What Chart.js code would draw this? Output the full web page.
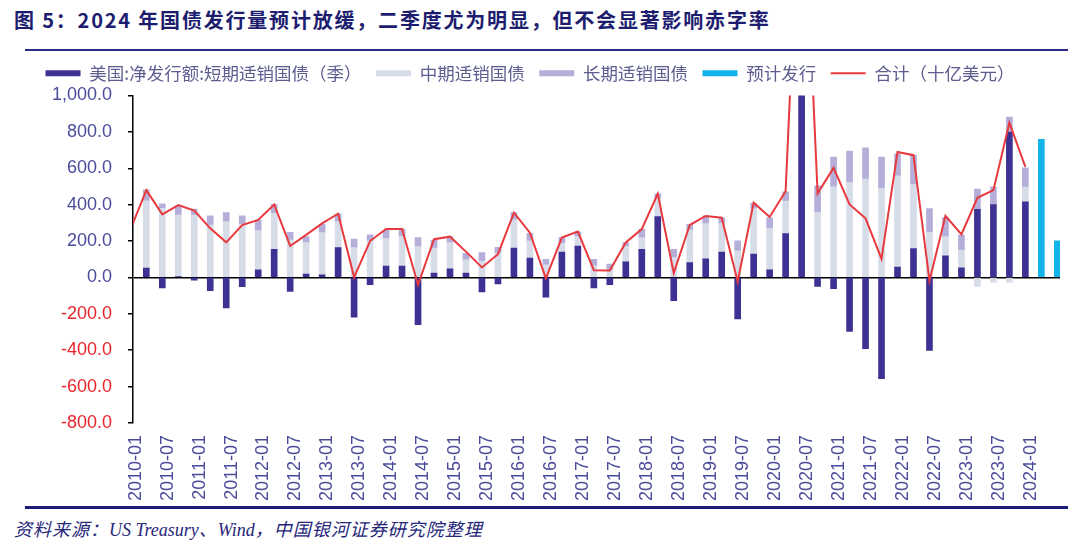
<!DOCTYPE html>
<html>
<head>
<meta charset="utf-8">
<title>2024年国债发行量预计放缓</title>
<script src="https://cdn.jsdelivr.net/npm/chart.js"></script>
<style>
  body { margin: 0; width: 1080px; height: 548px; background: #fff; position: relative; overflow: hidden; font-family: "Noto Sans CJK SC", sans-serif; }
  .title { position: absolute; left: 14px; top: 5px; font-size: 20px; font-weight: bold; color: #1d1d6f; letter-spacing: 1.8px; white-space: nowrap; }
  .rule-top { position: absolute; left: 25px; top: 49px; width: 1043px; height: 2px; background: #2c2c88; }
  .rule-bottom { position: absolute; left: 25px; top: 506px; width: 1043px; height: 3px; background: #1c1c7c; }
  .source { position: absolute; left: 14px; top: 515px; font-size: 18px; font-style: italic; color: #26267a; letter-spacing: 1px; white-space: nowrap; }
  .source .en { font-family: "Liberation Serif", serif; letter-spacing: 0; }
  #wrap { position: absolute; left: 0; top: 50px; width: 1080px; height: 456px; }
</style>
</head>
<body>
  <div class="title">图 5：2024 年国债发行量预计放缓，二季度尤为明显，但不会显著影响赤字率</div>
  <div class="rule-top"></div>
  <div id="wrap"><canvas id="issuance"></canvas></div>
  <div class="rule-bottom"></div>
  <div class="source">资料来源：<span class="en">US Treasury</span>、<span class="en">Wind</span>，中国银河证券研究院整理</div>

  <script>
    // quarter-end months, 2010Q1 .. 2023Q4
    const quarters = [];
    for (let y = 2010; y <= 2023; y++) ['03', '06', '09', '12'].forEach(m => quarters.push(y + '-' + m));
    const lineQuarters = ['2009-12'].concat(quarters);
    const forecastQuarters = ['2024-03', '2024-06'];
    const tickLabels = [];
    for (let y = 2010; y <= 2024; y++) { tickLabels.push(y + '-01'); if (y < 2024) tickLabels.push(y + '-07'); }

    // net issuance, billions USD
    const shortTerm = [51, -58, 5, -15, -73, -168, -51, 42, 155, -77, 18, 15, 164, -219, -40, 62,
      62, -259, 24, 47, 24, -80, -35, 161, 106, -108, 140, 172, -58, -40, 86, 155,
      334, -128, 82, 102, 140, -228, 128, 42, 241, 2050, -49, -62, -296, -392, -557, 57,
      159, -401, 119, 53, 374, 401, 799, 416];
    const midTerm = [370, 380, 338, 343, 288, 307, 292, 215, 197, 206, 174, 231, 143, 164, 201, 153,
      164, 170, 137, 144, 73, 88, 133, 155, 95, 70, 48, 52, 64, 42, 85, 64,
      100, 109, 179, 194, 157, 146, 250, 228, 179, 300, 358, 498, 522, 540, 489, 501,
      352, 248, 105, 98, -49, -26, -26, 80];
    const longTerm = [60, 25, 50, 33, 51, 49, 47, 58, 50, 42, 33, 46, 43, 47, 33, 44,
      40, 49, 45, 33, 36, 49, 33, 40, 42, 30, 31, 27, 36, 31, 20, 47,
      26, 46, 31, 42, 31, 55, 30, 58, 51, 80, 146, 164, 172, 173, 173, 122,
      161, 131, 105, 82, 111, 97, 82, 106];
    const forecast = [759, 201];
    const total = [262, 480, 347, 398, 367, 270, 193, 288, 316, 401, 173, 234, 297, 350, 2, 200, 266,
      266, -40, 210, 224, 142, 55, 128, 356, 246, -5, 219, 252, 40, 38, 192, 266,
      460, 24, 288, 338, 328, -22, 411, 332, 474, 2430, 462, 602, 401, 325, 102, 690,
      672, -18, 339, 237, 438, 480, 850, 608];

    const monthIndex = s => { const [y, m] = s.split('-').map(Number); return (y - 2010) * 12 + (m - 1); };
    const pts = (cats, vals) => cats.map((c, i) => ({ x: monthIndex(c), y: vals[i] }));

    const tickFont = { family: 'Liberation Sans, Arial, sans-serif', size: 18 };
    const bar = (label, data, color) => ({
      type: 'bar', label, data, backgroundColor: color, stack: 'net',
      barThickness: 6, pointStyle: 'rect'
    });

    // extra room between the legend row and the plot
    const legendGap = {
      id: 'legendGap',
      beforeInit(chart) {
        const fit = chart.legend.fit;
        chart.legend.fit = function () { fit.call(this); this.height += 3.5; };
      }
    };

    new Chart(document.getElementById('issuance'), {
      type: 'bar',
      data: {
        datasets: [
          bar('美国:净发行额:短期适销国债（季）', pts(quarters, shortTerm), '#3d3293'),
          bar('中期适销国债', pts(quarters, midTerm), '#d6dce8'),
          bar('长期适销国债', pts(quarters, longTerm), '#b5aed8'),
          bar('预计发行', pts(forecastQuarters, forecast), '#13b4ea'),
          {
            type: 'line', label: '合计（十亿美元）', data: pts(lineQuarters, total),
            borderColor: '#e8393e', backgroundColor: '#e8393e', borderWidth: 2,
            pointRadius: 0, pointStyle: 'line', tension: 0, stack: 'total', order: -1, clip: 0
          }
        ]
      },
      options: {
        responsive: true,
        maintainAspectRatio: false,
        animation: false,
        layout: { padding: { left: 0, right: 20, top: 0, bottom: 0 } },
        plugins: {
          tooltip: { enabled: false },
          legend: {
            position: 'top',
            labels: {
              usePointStyle: true, pointStyleWidth: 35, boxHeight: 6, padding: 14.5,
              color: '#5d5d90', font: { family: 'Noto Sans CJK SC', size: 17.5 },
              sort: (a, b) => a.datasetIndex - b.datasetIndex
            }
          }
        },
        scales: {
          x: {
            type: 'linear', stacked: true, min: -0.5, max: 173.5, offset: false,
            afterFit: s => { s.height = 83; },
            afterBuildTicks: s => { s.ticks = tickLabels.map(t => ({ value: monthIndex(t) })); },
            grid: { display: false, drawTicks: false },
            border: { display: false },
            ticks: {
              autoSkip: false, maxRotation: 90, minRotation: 90, padding: 12,
              color: '#4b4b9c', font: tickFont,
              callback: (v, i) => tickLabels[i]
            }
          },
          y: {
            stacked: true, min: -800, max: 1000,
            afterFit: s => { s.width = 133; },
            border: { color: '#000', width: 1.5 },
            grid: {
              color: c => c.tick.value === 0 ? '#000' : 'rgba(0,0,0,0)',
              lineWidth: 1.5, tickColor: '#000', tickLength: 5, tickWidth: 1.5
            },
            ticks: {
              stepSize: 200, padding: 16, font: tickFont,
              color: c => c.tick.value < 0 ? '#e8252b' : '#4b4b9c',
              callback: v => v.toLocaleString('en-US', { minimumFractionDigits: 1, maximumFractionDigits: 1 })
            }
          }
        }
      },
      plugins: [legendGap]
    });
  </script>
</body>
</html>
